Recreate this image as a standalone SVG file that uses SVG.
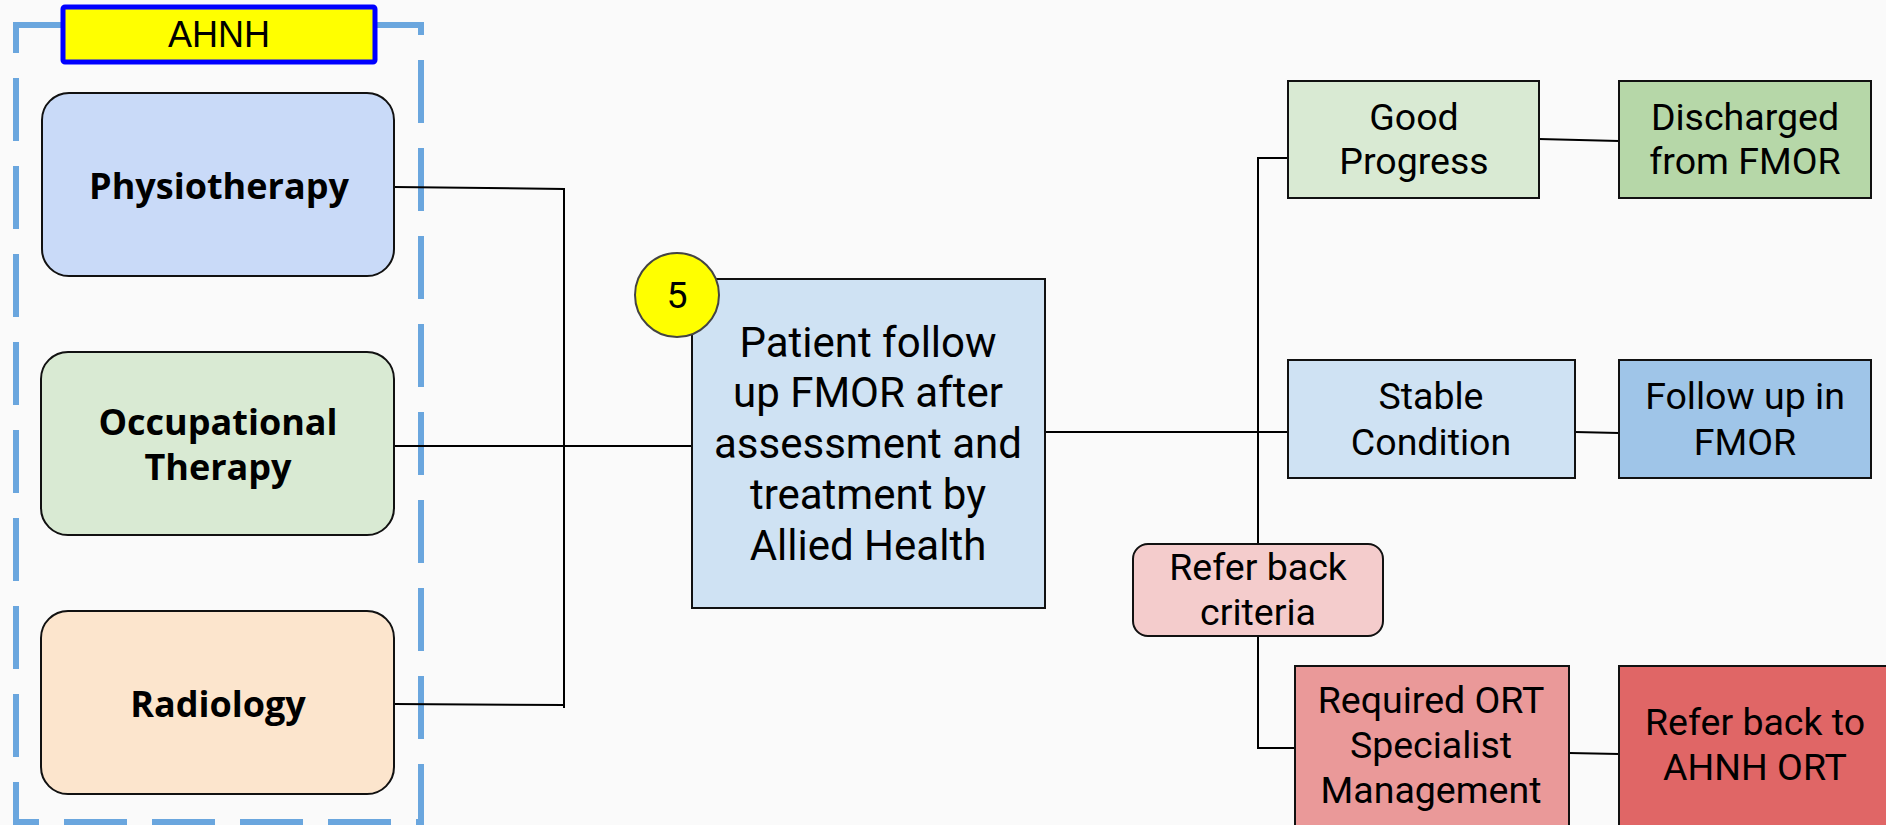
<svg xmlns="http://www.w3.org/2000/svg" width="1886" height="825" viewBox="0 0 1886 825">
<style>
.bg{fill:#fafafa}
.box{stroke:#111;stroke-width:2}
.lbl{font-family:"Open Sans","Noto Sans",sans-serif;font-weight:bold;font-size:36px;fill:#000;text-anchor:middle}
.t{font-family:Roboto,"Liberation Sans",sans-serif;font-size:37.5px;fill:#000;text-anchor:middle}
.tm{font-family:Roboto,"Liberation Sans",sans-serif;font-size:42px;fill:#000;text-anchor:middle}
.conn{stroke:#000;stroke-width:2;fill:none}
</style>
<rect class="bg" x="0" y="0" width="1886" height="825"/>
<g id="ahnh-container">
<rect x="16" y="25" width="405" height="797" fill="none" stroke="#6aa6de" stroke-width="6" stroke-dasharray="63 25"/>
</g>
<g id="connectors">
<polyline class="conn" points="394,187 564,189 564,708"/>
<polyline class="conn" points="394,704 564,705"/>
<line class="conn" x1="394" y1="446" x2="692" y2="446"/>
<line class="conn" x1="1045" y1="432" x2="1288" y2="432"/>
<polyline class="conn" points="1288,158 1258,158 1258,748 1295,748"/>
<line class="conn" x1="1539" y1="139" x2="1619" y2="141"/>
<line class="conn" x1="1575" y1="432" x2="1619" y2="433"/>
<line class="conn" x1="1569" y1="753" x2="1619" y2="754"/>
</g>
<g id="ahnh-label">
<rect x="63" y="7" width="312" height="55" fill="#ffff00" stroke="#0000ff" stroke-width="5" rx="2"/>
<text x="219" y="47" font-family="Liberation Sans,Arial,sans-serif" font-size="36" text-anchor="middle" fill="#000">AHNH</text>
</g>
<g id="physiotherapy">
<rect class="box" x="42" y="93" width="352" height="183" rx="27" fill="#c9daf8"/>
<text class="lbl" x="219" y="199">Physiotherapy</text>
</g>
<g id="occupational-therapy">
<rect class="box" x="41" y="352" width="353" height="183" rx="27" fill="#d9ead3"/>
<text class="lbl" x="218" y="435">Occupational</text>
<text class="lbl" x="218" y="480">Therapy</text>
</g>
<g id="radiology">
<rect class="box" x="41" y="611" width="353" height="183" rx="27" fill="#fce5cd"/>
<text class="lbl" x="218" y="717">Radiology</text>
</g>
<g id="main">
<rect class="box" x="692" y="279" width="353" height="329" fill="#cfe2f3"/>
<text class="tm" x="868" y="357">Patient follow</text>
<text class="tm" x="868" y="407">up FMOR after</text>
<text class="tm" x="868" y="458">assessment and</text>
<text class="tm" x="868" y="509">treatment by</text>
<text class="tm" x="868" y="560">Allied Health</text>
</g>
<g id="step-5">
<circle cx="677" cy="295" r="42" fill="#ffff00" stroke="#444" stroke-width="2"/>
<text class="t" x="677" y="308">5</text>
</g>
<g id="good-progress">
<rect class="box" x="1288" y="81" width="251" height="117" fill="#d9ead3"/>
<text class="t" x="1414" y="130">Good</text>
<text class="t" x="1414" y="174">Progress</text>
</g>
<g id="discharged">
<rect class="box" x="1619" y="81" width="252" height="117" fill="#b6d7a8"/>
<text class="t" x="1745" y="130">Discharged</text>
<text class="t" x="1745" y="174">from FMOR</text>
</g>
<g id="stable-condition">
<rect class="box" x="1288" y="360" width="287" height="118" fill="#cfe2f3"/>
<text class="t" x="1431" y="409">Stable</text>
<text class="t" x="1431" y="455">Condition</text>
</g>
<g id="follow-up">
<rect class="box" x="1619" y="360" width="252" height="118" fill="#9fc5e8"/>
<text class="t" x="1745" y="409">Follow up in</text>
<text class="t" x="1745" y="455">FMOR</text>
</g>
<g id="refer-back-criteria">
<rect class="box" x="1133" y="544" width="250" height="92" rx="15" fill="#f4cccc"/>
<text class="t" x="1258" y="580">Refer back</text>
<text class="t" x="1258" y="625">criteria</text>
</g>
<g id="required-ort">
<rect class="box" x="1295" y="666" width="274" height="162" fill="#ea9999"/>
<text class="t" x="1431" y="713">Required ORT</text>
<text class="t" x="1431" y="758">Specialist</text>
<text class="t" x="1431" y="803">Management</text>
</g>
<g id="refer-back-ahnh">
<rect class="box" x="1619" y="666" width="274" height="162" fill="#e06666"/>
<text class="t" x="1755" y="735">Refer back to</text>
<text class="t" x="1755" y="780">AHNH ORT</text>
</g>
</svg>
